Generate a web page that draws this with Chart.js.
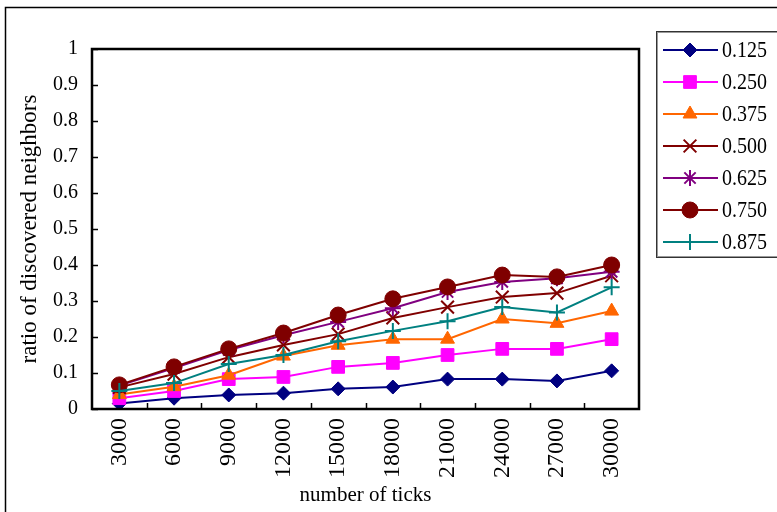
<!DOCTYPE html>
<html lang="en">
<head>
<meta charset="UTF-8">
<title>Ratio of discovered neighbors</title>
<script src="https://cdn.jsdelivr.net/npm/chart.js@4.4.1/dist/chart.umd.min.js"></script>
<style>
  html, body { margin: 0; padding: 0; background: #fff; }
  #wrap { width: 777px; height: 512px; position: relative; }
</style>
</head>
<body>
<div id="wrap"><canvas id="chart"></canvas></div>
<script>
// number of ticks (x categories)
const tickCounts = ['3000', '6000', '9000', '12000', '15000', '18000', '21000', '24000', '27000', '30000'];
const yTickValues = [0, 0.1, 0.2, 0.3, 0.4, 0.5, 0.6, 0.7, 0.8, 0.9, 1];

// ratio of discovered neighbors, one series per density
const r125 = [0.015, 0.030, 0.039, 0.044, 0.056, 0.061, 0.083, 0.083, 0.078, 0.106];
const r250 = [0.030, 0.050, 0.083, 0.089, 0.117, 0.128, 0.150, 0.167, 0.167, 0.194];
const r375 = [0.040, 0.062, 0.094, 0.147, 0.177, 0.194, 0.194, 0.250, 0.238, 0.272];
const r500 = [0.060, 0.097, 0.144, 0.178, 0.208, 0.253, 0.283, 0.311, 0.322, 0.370];
const r625 = [0.065, 0.114, 0.164, 0.205, 0.242, 0.280, 0.325, 0.353, 0.363, 0.381];
const r750 = [0.067, 0.117, 0.167, 0.211, 0.261, 0.306, 0.339, 0.372, 0.367, 0.400];
const r875 = [0.050, 0.072, 0.125, 0.150, 0.188, 0.217, 0.244, 0.283, 0.268, 0.338];

const seriesNames = ['0.125', '0.250', '0.375', '0.500', '0.625', '0.750', '0.875'];
const seriesData = [r125, r250, r375, r500, r625, r750, r875];
const seriesColors = ['#000080', '#ff00ff', '#ff6600', '#800000', '#800080', '#7f0000', '#008080'];
const seriesMarkers = ['rectRot', 'rect', 'triangle', 'crossRot', 'star', 'circle', 'cross'];
const markerRadius = [7, 9, 8, 9, 8, 8, 8];

const serif = "'Liberation Serif', 'DejaVu Serif', serif";

const datasets = seriesNames.map((name, i) => ({
  label: name,
  data: seriesData[i],
  borderColor: seriesColors[i],
  backgroundColor: seriesColors[i],
  pointBackgroundColor: seriesColors[i],
  pointBorderColor: seriesColors[i],
  pointStyle: seriesMarkers[i],
  pointRadius: markerRadius[i],
  pointBorderWidth: (seriesMarkers[i] === 'crossRot' || seriesMarkers[i] === 'cross' || seriesMarkers[i] === 'star') ? 2 : 1,
  borderWidth: 2,
  tension: 0,
  fill: false,
  // later series are painted over earlier ones
  order: seriesNames.length - i
}));

// white page, outer frame, plot border, inward tick marks and the legend box
const decor = {
  id: 'decor',
  beforeDraw(chart) {
    const ctx = chart.ctx;
    ctx.save();
    ctx.fillStyle = '#fff';
    ctx.fillRect(0, 0, chart.width, chart.height);
    ctx.strokeStyle = '#000';
    ctx.lineWidth = 1.5;
    ctx.beginPath();
    ctx.moveTo(5.5, chart.height + 5);
    ctx.lineTo(5.5, 7.5);
    ctx.lineTo(chart.width + 5, 7.5);
    ctx.stroke();
    ctx.restore();
  },
  afterDraw(chart) {
    const ctx = chart.ctx;
    const a = chart.chartArea;
    const xs = chart.scales.x, ys = chart.scales.y;
    ctx.save();
    ctx.strokeStyle = '#000';
    ctx.lineWidth = 1.5;
    ctx.beginPath();
    yTickValues.forEach(v => {
      const y = Math.round(ys.getPixelForValue(v)) + 0.5;
      ctx.moveTo(a.left, y);
      ctx.lineTo(a.left + 6, y);
    });
    for (let i = 1; i < tickCounts.length; i++) {
      const x = Math.round((xs.getPixelForValue(i - 1) + xs.getPixelForValue(i)) / 2) + 0.5;
      ctx.moveTo(x, a.bottom);
      ctx.lineTo(x, a.bottom - 6);
    }
    ctx.stroke();
    ctx.lineWidth = 2.5;
    ctx.strokeRect(a.left, a.top, a.right - a.left, a.bottom - a.top);

    // legend
    const bx = 656.5, by = 31.5, bh = 226;
    ctx.lineWidth = 1;
    ctx.strokeStyle = '#333';
    ctx.strokeRect(bx, by, 140, bh);
    ctx.strokeStyle = '#999';
    ctx.strokeRect(bx + 1, by + 1, 140, bh - 2);
    ctx.font = '20px ' + serif;
    ctx.textBaseline = 'middle';
    ctx.textAlign = 'left';
    seriesNames.forEach((name, i) => {
      const y = 50 + i * 32;
      ctx.strokeStyle = seriesColors[i];
      ctx.fillStyle = seriesColors[i];
      ctx.lineWidth = 2;
      ctx.beginPath();
      ctx.moveTo(663, y);
      ctx.lineTo(718, y);
      ctx.stroke();
      ctx.lineWidth = datasets[i].pointBorderWidth;
      Chart.helpers.drawPoint(ctx, {
        pointStyle: seriesMarkers[i],
        radius: markerRadius[i],
        borderWidth: datasets[i].pointBorderWidth,
        rotation: 0
      }, 690, y);
      // legend labels are a little taller than wide
      ctx.save();
      ctx.translate(722, y + 1);
      ctx.scale(1, 1.15);
      ctx.fillStyle = '#000';
      ctx.fillText(name, 0, 0);
      ctx.restore();
    });
    ctx.restore();
  }
};

new Chart(document.getElementById('chart'), {
  type: 'line',
  data: { labels: tickCounts, datasets: datasets },
  options: {
    responsive: true,
    maintainAspectRatio: false,
    animation: false,
    events: [],
    layout: { padding: { left: 13, top: 49, right: 138, bottom: 0 } },
    plugins: {
      legend: { display: false },
      tooltip: { enabled: false }
    },
    scales: {
      x: {
        type: 'category',
        offset: true,
        grid: { display: false, drawTicks: false },
        border: { display: false },
        ticks: {
          color: '#000',
          font: { family: serif, size: 24 },
          minRotation: 90,
          maxRotation: 90,
          padding: 9,
          autoSkip: false
        },
        title: {
          display: true,
          text: 'number of ticks',
          color: '#000',
          font: { family: serif, size: 21 },
          padding: { top: 4, bottom: 4 }
        },
        afterFit(scale) { scale.height = 103; }
      },
      y: {
        min: 0,
        max: 1,
        afterBuildTicks(scale) { scale.ticks = yTickValues.map(v => ({ value: v })); },
        grid: { display: false, drawTicks: false },
        border: { display: false },
        ticks: {
          color: '#000',
          font: { family: serif, size: 20 },
          padding: 14,
          callback: v => String(v)
        },
        title: {
          display: true,
          text: 'ratio of discovered neighbors',
          color: '#000',
          font: { family: serif, size: 23 },
          padding: { top: 3, bottom: 3 }
        },
        afterFit(scale) { scale.width = 79; }
      }
    }
  },
  plugins: [decor]
});
</script>
</body>
</html>
